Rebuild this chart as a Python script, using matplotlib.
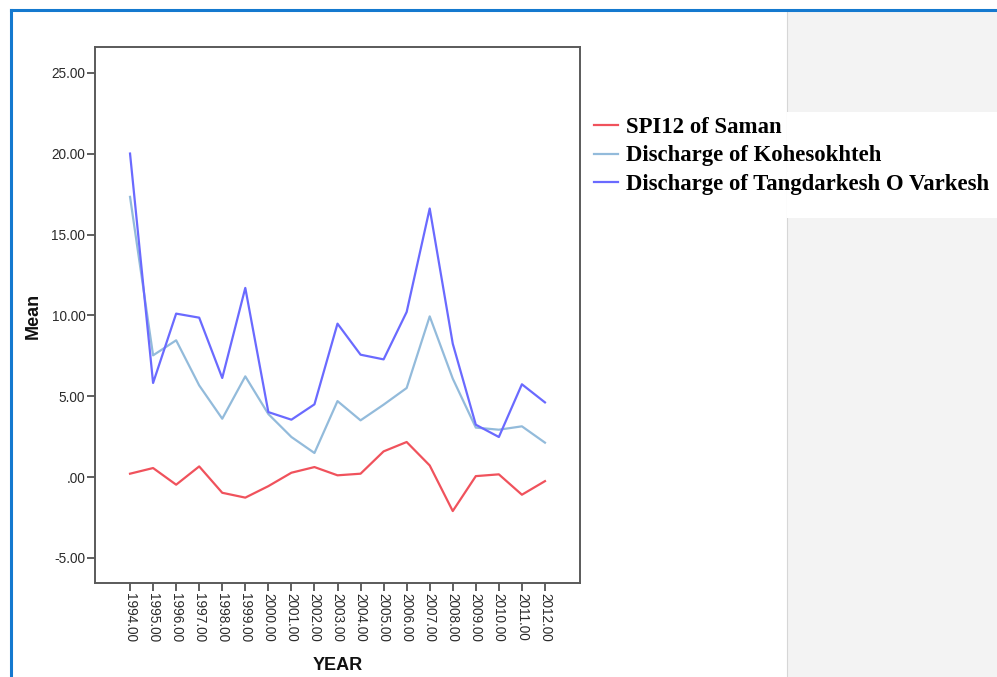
import matplotlib.pyplot as plt
from matplotlib.patches import Rectangle
from matplotlib.lines import Line2D
import numpy as np

# Data
years = [1994, 1995, 1996, 1997, 1998, 1999, 2000, 2001, 2002, 2003,
         2004, 2005, 2006, 2007, 2008, 2009, 2010, 2011, 2012]
spi12_saman = [0.21, 0.56, -0.47, 0.66, -0.97, -1.27, -0.56, 0.27, 0.62, 0.11,
               0.21, 1.59, 2.17, 0.72, -2.10, 0.06, 0.17, -1.09, -0.25]
q_kohesokhteh = [17.33, 7.53, 8.46, 5.67, 3.61, 6.23, 3.90, 2.48, 1.49, 4.70,
                 3.51, 4.48, 5.51, 9.94, 6.09, 3.06, 2.93, 3.14, 2.13]
q_tangdarkesh = [20.01, 5.82, 10.11, 9.86, 6.13, 11.70, 4.02, 3.55, 4.50, 9.49,
                 7.57, 7.28, 10.21, 16.61, 8.25, 3.24, 2.48, 5.74, 4.62]
yticks = [-5, 0, 5, 10, 15, 20, 25]
labels = ["SPI12 of Saman", "Discharge of Kohesokhteh",
          "Discharge of Tangdarkesh O Varkesh"]

W, H = 997, 677
fig = plt.figure(figsize=(W / 100, H / 100), dpi=100)

# window decorations: blue frame and grey side panel
fig.add_artist(Rectangle((787 / W, 0), 210 / W, 1 - 12 / H, transform=fig.transFigure,
                         facecolor="#f3f3f3", edgecolor="none", zorder=0))
fig.add_artist(Line2D([787 / W, 787 / W], [0, 1 - 12 / H], transform=fig.transFigure,
                      color="#d6d6d6", lw=0.8, zorder=0.5))
fig.add_artist(Rectangle((787 / W, 1 - 218 / H), 210 / W, 106 / H, transform=fig.transFigure,
                         facecolor="white", edgecolor="none", zorder=0.6))
fig.add_artist(Line2D([11 / W, 1], [1 - 10 / H, 1 - 10 / H], transform=fig.transFigure,
                      color="#1479cf", lw=2.2, zorder=1))
fig.add_artist(Line2D([11 / W, 11 / W], [0, 1 - 10 / H], transform=fig.transFigure,
                      color="#1479cf", lw=2.2, zorder=1))

ax = fig.add_axes([95 / W, 1 - 583 / H, 485 / W, 536 / H])
ax.set_facecolor("white")

l1, = ax.plot(years, spi12_saman, color="#f0525c", lw=1.6)
l2, = ax.plot(years, q_kohesokhteh, color="#93bbdb", lw=1.6)
l3, = ax.plot(years, q_tangdarkesh, color="#6a6aff", lw=1.6)

ax.set_xlim(1992.48, 2013.52)
ax.set_ylim(-6.55, 26.6)

ax.set_yticks(yticks)
ax.set_yticklabels([("%.2f" % v) if v != 0 else ".00" for v in yticks])
ax.set_xticks(years)
ax.set_xticklabels(["%.2f" % y for y in years], rotation=-90)

for s in ax.spines.values():
    s.set_color("#5a5a5a")
    s.set_linewidth(1.4)
ax.tick_params(axis="both", direction="out", length=5.5, width=1.2, color="#444444",
               labelsize=9.8, labelcolor="#2a2a2a", pad=1.5)
for t in ax.get_xticklabels() + ax.get_yticklabels():
    t.set_fontfamily("Liberation Sans")

fig.text(33 / W, 1 - 316 / H, "Mean", rotation=90, ha="center", va="center",
         fontsize=13, fontweight="bold", family="Liberation Sans", color="#111111")
fig.text(338 / W, 1 - 665 / H, "YEAR", ha="center", va="center",
         fontsize=13, fontweight="bold", family="Liberation Sans", color="#111111")

leg = fig.legend([l1, l2, l3], labels, loc="center left",
                 bbox_to_anchor=(594 / W, 1 - 156 / H), bbox_transform=fig.transFigure,
                 frameon=False, borderpad=0, borderaxespad=0,
                 handlelength=1.05, handletextpad=0.35, labelspacing=0.34,
                 prop={"family": "Liberation Serif", "weight": "bold", "size": 16.4})
leg.set_zorder(5)

fig.savefig("out.png", dpi=100)
